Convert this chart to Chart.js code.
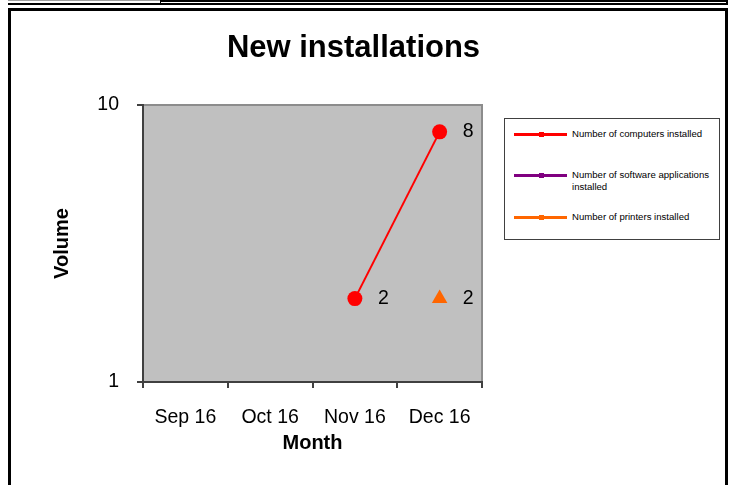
<!DOCTYPE html>
<html>
<head>
<meta charset="utf-8">
<script src="https://cdn.jsdelivr.net/npm/chart.js@4.4.1/dist/chart.umd.min.js"></script>
<style>
  html, body { margin: 0; padding: 0; background: #fff; }
  body { width: 730px; height: 485px; position: relative; overflow: hidden; font-family: "Liberation Sans", Arial, sans-serif; }
  .abs { position: absolute; box-sizing: border-box; }
  #chart { position: absolute; left: 0; top: 0; }
  #legend { left: 504px; top: 118px; width: 216px; height: 122px; border: 1px solid #404040; background: #fff; }
  .item { position: absolute; left: 0; width: 100%; }
  .swatch { position: absolute; left: 9px; width: 53px; height: 3px; }
  .mark { position: absolute; left: 34px; width: 5px; height: 5px; }
  .ltext { position: absolute; left: 67px; width: 140px; font-size: 9.6px; line-height: 12px; color: #000; }
</style>
</head>
<body>
<!-- decorative page frame -->
<div class="abs" style="left:8px;top:0;width:152px;height:1px;background:#a0a0a0"></div>
<div class="abs" style="left:160px;top:0;width:568px;height:2px;background:#000"></div>
<div class="abs" style="left:160px;top:0;width:1px;height:4px;background:#000"></div>
<div class="abs" style="left:8px;top:3px;width:720px;height:2px;background:#000"></div>
<div class="abs" style="left:726px;top:0;width:2px;height:5px;background:#000"></div>
<div class="abs" style="left:8px;top:8px;width:720px;height:500px;border:3px solid #000"></div>
<div class="abs" id="legend"></div>
<canvas id="chart" width="707" height="485"></canvas>
<script>
const months = ["Sep 16", "Oct 16", "Nov 16", "Dec 16"];
const seriesNames = ["Number of computers installed", "Number of software applications installed", "Number of printers installed"];
const computers = [null, null, 2, 8];
const software = [null, null, null, null];
const printers = [null, null, null, 2];
const yTicks = [1, 10];
const seriesColors = ["#FF0000", "#800080", "#FF6600"];

const FONT = '"Liberation Sans", Arial, sans-serif';

const plotBg = {
  id: 'plotBg',
  beforeDraw(chart) {
    const { ctx, chartArea: a } = chart;
    ctx.save();
    ctx.fillStyle = '#C0C0C0';
    ctx.fillRect(a.left, a.top, a.right - a.left, a.bottom - a.top);
    ctx.strokeStyle = '#8c8c8c';
    ctx.lineWidth = 2;
    ctx.strokeRect(a.left, a.top, a.right - a.left, a.bottom - a.top);
    ctx.restore();
  }
};

const valueLabels = {
  id: 'valueLabels',
  afterDatasetsDraw(chart) {
    const ctx = chart.ctx;
    ctx.save();
    ctx.font = '19.5px ' + FONT;
    ctx.fillStyle = '#000';
    ctx.textAlign = 'left';
    ctx.textBaseline = 'middle';
    chart.data.datasets.forEach((ds, i) => {
      const meta = chart.getDatasetMeta(i);
      meta.data.forEach((pt, j) => {
        const v = ds.data[j];
        if (v == null) return;
        ctx.fillText(String(v), pt.x + 23, pt.y);
      });
    });
    ctx.restore();
  }
};

const chart = new Chart(document.getElementById('chart'), {
  type: 'line',
  data: {
    labels: months,
    datasets: [
      { label: seriesNames[0], data: computers, borderColor: seriesColors[0], backgroundColor: seriesColors[0],
        borderWidth: 2, pointStyle: 'circle', pointRadius: 7.5, pointBorderWidth: 0, pointHoverRadius: 7.5 },
      { label: seriesNames[1], data: software, borderColor: seriesColors[1], backgroundColor: seriesColors[1],
        borderWidth: 2, pointStyle: 'rect', pointRadius: 5 },
      { label: seriesNames[2], data: printers, borderColor: seriesColors[2], backgroundColor: seriesColors[2],
        borderWidth: 2, pointStyle: 'triangle', pointRadius: 9, pointBorderWidth: 0 }
    ]
  },
  options: {
    responsive: false,
    animation: false,
    layout: { padding: 0 },
    plugins: {
      legend: { display: false },
      tooltip: { enabled: false },
      title: {
        display: true,
        text: 'New installations',
        color: '#000',
        font: { family: FONT, size: 31, weight: 'bold' },
        padding: { top: 29.9, bottom: 37.9 }
      }
    },
    scales: {
      x: {
        type: 'category',
        offset: true,
        grid: { display: true, offset: true, drawOnChartArea: false, drawTicks: true, tickLength: 6, color: '#404040', lineWidth: 2 },
        border: { display: true, color: '#404040', width: 2 },
        ticks: { color: '#000', font: { family: FONT, size: 19.5 }, padding: 18, maxRotation: 0, autoSkip: false },
        title: { display: true, text: 'Month', color: '#000', font: { family: FONT, size: 20, weight: 'bold' }, padding: { top: 30, bottom: 30 } },
        afterFit(s) { s.height = 103; }
      },
      y: {
        type: 'logarithmic',
        min: 1,
        max: 10,
        afterBuildTicks(s) { s.ticks = yTicks.map(v => ({ value: v })); },
        grid: { display: true, drawOnChartArea: false, drawTicks: true, tickLength: 6, color: '#404040', lineWidth: 2 },
        border: { display: true, color: '#404040', width: 2 },
        ticks: { color: '#000', font: { family: FONT, size: 19.5 }, padding: 18, callback: v => String(v) },
        title: { display: true, text: 'Volume', color: '#000', font: { family: FONT, size: 20, weight: 'bold' }, padding: { top: 50, bottom: 0 } },
        afterFit(s) { s.width = 143; }
      },
      yPad: {
        type: 'linear',
        position: 'right',
        display: true,
        grid: { display: false },
        border: { display: false },
        ticks: { display: false },
        afterFit(s) { s.width = 225; }
      }
    }
  },
  plugins: [plotBg, valueLabels]
});

// HTML legend built from the chart's datasets
const legend = document.getElementById('legend');
const rowCenters = [15, 56, 98];
chart.data.datasets.forEach((ds, i) => {
  const c = rowCenters[i];
  const sw = document.createElement('div');
  sw.className = 'swatch';
  sw.style.top = (c - 1.5) + 'px';
  sw.style.background = ds.borderColor;
  legend.appendChild(sw);
  const mk = document.createElement('div');
  mk.className = 'mark';
  mk.style.top = (c - 2.5) + 'px';
  mk.style.background = ds.borderColor;
  legend.appendChild(mk);
  const t = document.createElement('div');
  t.className = 'ltext';
  t.style.top = (c - 6) + 'px';
  t.textContent = ds.label;
  legend.appendChild(t);
});
</script>
</body>
</html>
